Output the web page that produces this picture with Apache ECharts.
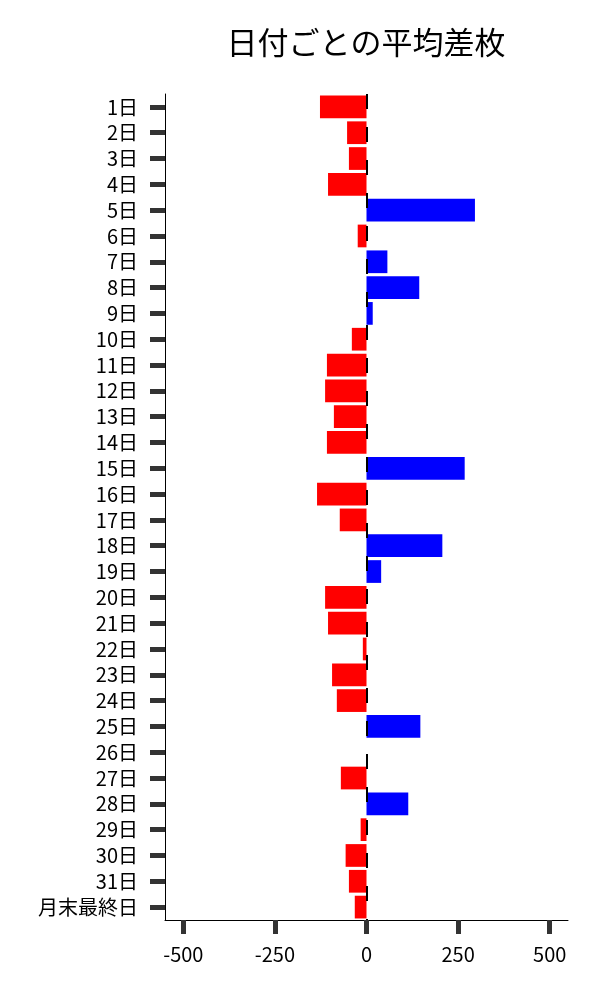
<!DOCTYPE html>
<html>
<head>
<meta charset="utf-8">
<script src="https://cdn.jsdelivr.net/npm/echarts@6/dist/echarts.min.js"></script>
<style>html,body{margin:0;padding:0;background:#fff;}#c{width:600px;height:1000px;}</style>
</head>
<body>
<div id="c"></div>
<script>
const categories = ['1日','2日','3日','4日','5日','6日','7日','8日','9日','10日','11日','12日','13日','14日','15日','16日','17日','18日','19日','20日','21日','22日','23日','24日','25日','26日','27日','28日','29日','30日','31日','月末最終日'];
const values = [-127,-53,-48,-105,296,-24,57,144,17,-40,-108,-113,-89,-108,268,-135,-73,207,40,-113,-105,-10,-94,-81,147,0,-70,114,-16,-57,-48,-32];
const xTicks = [-500,-250,0,250,500];
const titleText = '日付ごとの平均差枚';

const FONT = '"Noto Sans CJK JP", "Noto Sans", sans-serif';
const chart = echarts.init(document.getElementById('c'), null, {renderer:'canvas'});
chart.setOption({
  animation: false,
  backgroundColor: '#fff',
  graphic: [{
    type: 'text', x: 366, y: 27,
    style: {text: titleText, fontFamily: FONT, fontSize: 31, fill: '#000', align: 'center', verticalAlign: 'top'}
  }],
  grid: {left: 165, right: 32, top: 94, bottom: 80, containLabel: false},
  xAxis: {
    type: 'value', min: -550, max: 550,
    axisLine: {show: true, onZero: false, lineStyle: {color: '#000', width: 1}},
    axisTick: {show: true, customValues: xTicks, length: 14, lineStyle: {color: '#333', width: 5}},
    axisLabel: {customValues: xTicks, margin: 24, fontFamily: FONT, fontSize: 20, color: '#000'},
    splitLine: {show: false}
  },
  yAxis: {
    type: 'category', data: categories, inverse: true,
    axisLine: {show: true, onZero: false, lineStyle: {color: '#000', width: 1}},
    axisTick: {show: true, alignWithLabel: true, interval: 0, length: 15, lineStyle: {color: '#333', width: 5}},
    axisLabel: {interval: 0, hideOverlap: false, margin: 27, fontFamily: FONT, fontSize: 20, color: '#000'}
  },
  series: [{
    type: 'bar', data: values, barCategoryGap: '12%',
    itemStyle: {color: p => p.value >= 0 ? '#0000ff' : '#ff0000'},
    markLine: {
      symbol: 'none', silent: true, label: {show: false},
      lineStyle: {color: '#000', width: 2, type: [15, 18]},
      data: [{xAxis: 0}]
    }
  }]
});
</script>
</body>
</html>
